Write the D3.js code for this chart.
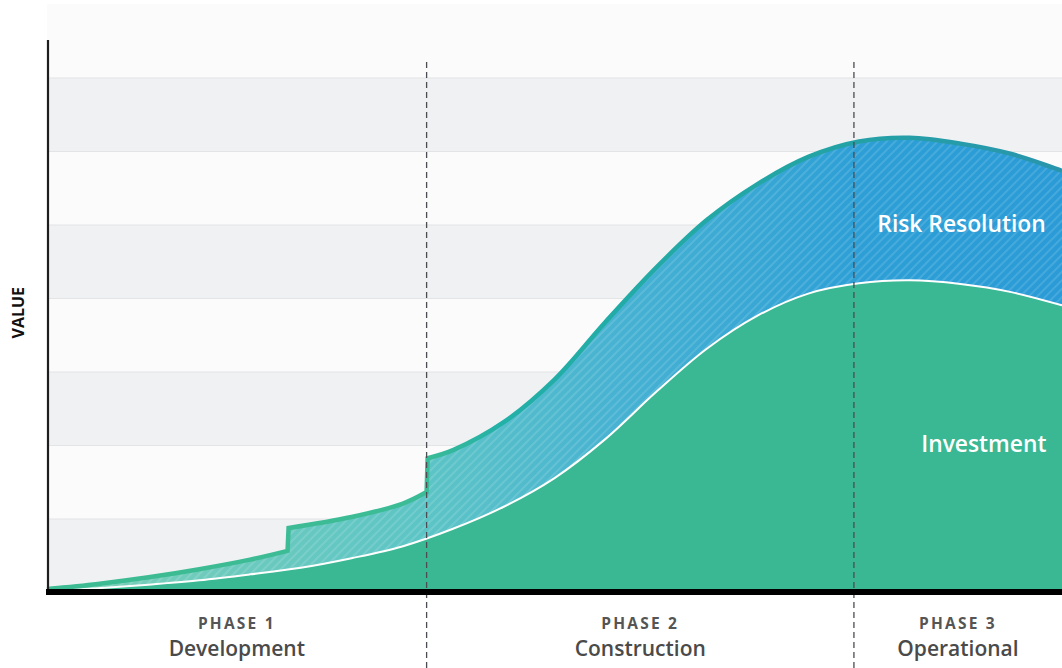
<!DOCTYPE html>
<html>
<head>
<meta charset="utf-8">
<script src="https://cdn.jsdelivr.net/npm/d3@7"></script>
<style>
  body { margin: 0; background: #fff; }
  text { font-family: "Open Sans", "Noto Sans", sans-serif; }
</style>
</head>
<body>
<svg width="1062" height="668"></svg>
<script>
var svg = d3.select("svg"),
    margin = {top: 4, right: 0, bottom: 76, left: 47},
    width = +svg.attr("width") - margin.left - margin.right,
    height = +svg.attr("height") - margin.top - margin.bottom;

// project timeline 0..100, value in grid bands 0..8
var bands = d3.range(8);
var phaseEdges = [0, 37.4, 79.5, 100];
var phaseNames = ["PHASE 1", "PHASE 2", "PHASE 3"];
var phaseTitles = ["Development", "Construction", "Operational"];

// upper curve (investment + risk resolution); steps at 23.7 and 37.4
var topX = [0, 5, 10, 15, 20, 23.7, 23.8, 30, 35, 37.4, 37.5, 40, 45, 50, 55, 60, 65, 70, 75, 80, 85, 90, 95, 100];
var topV = [0.04, 0.11, 0.20, 0.31, 0.44, 0.56, 0.87, 1.02, 1.20, 1.36, 1.82, 1.93, 2.31, 2.89, 3.67, 4.41, 5.06, 5.55, 5.92, 6.13, 6.18, 6.10, 5.96, 5.73];

// investment curve
var invX = [0, 5, 10, 15, 20, 25, 30, 35, 40, 45, 50, 55, 60, 65, 70, 75, 80, 85, 90, 95, 100];
var invV = [0.01, 0.05, 0.10, 0.16, 0.24, 0.33, 0.46, 0.62, 0.86, 1.16, 1.55, 2.08, 2.72, 3.31, 3.76, 4.06, 4.20, 4.24, 4.19, 4.08, 3.90];

var xScale = d3.scaleLinear().domain([0, 100]).range([margin.left, margin.left + width]);
var yScale = d3.scaleLinear().domain([0, 8]).range([margin.top + height, margin.top]);

var topData = topX.map(function(x, i) { return {x: x, v: topV[i]}; });
var invData = invX.map(function(x, i) { return {x: x, v: invV[i]}; });

var defs = svg.append("defs");

var fillGrad = defs.append("linearGradient")
    .attr("id", "riskFill")
    .attr("gradientUnits", "userSpaceOnUse")
    .attr("x1", xScale(0)).attr("x2", xScale(100)).attr("y1", 0).attr("y2", 0);
[[0, "#7bd0b6"], [0.38, "#5cc4c6"], [0.56, "#47b2d2"], [0.8, "#2d9fd6"], [1, "#2a9bd6"]].forEach(function(s) {
  fillGrad.append("stop").attr("offset", s[0]).attr("stop-color", s[1]);
});

var lineGrad = defs.append("linearGradient")
    .attr("id", "riskLine")
    .attr("gradientUnits", "userSpaceOnUse")
    .attr("x1", xScale(0)).attr("x2", xScale(100)).attr("y1", 0).attr("y2", 0);
[[0, "#3dbb92"], [0.37, "#3cbc96"], [0.45, "#22b0a8"], [0.75, "#23a4a4"], [1, "#2895ad"]].forEach(function(s) {
  lineGrad.append("stop").attr("offset", s[0]).attr("stop-color", s[1]);
});

var hatch = defs.append("pattern")
    .attr("id", "hatch")
    .attr("patternUnits", "userSpaceOnUse")
    .attr("width", 6).attr("height", 6)
    .attr("patternTransform", "rotate(45)");
hatch.append("rect")
    .attr("width", 2).attr("height", 6)
    .attr("fill", "#fff").attr("fill-opacity", 0.13);

// background bands
svg.selectAll(".band")
    .data(bands)
    .enter()
    .append("rect")
    .attr("class", "band")
    .attr("x", margin.left)
    .attr("width", width)
    .attr("y", function(d) { return yScale(d + 1); })
    .attr("height", function(d) { return yScale(d) - yScale(d + 1); })
    .attr("fill", function(d) { return d % 2 === 0 ? "#f0f1f3" : "#fbfbfb"; });

svg.selectAll(".bandline")
    .data(bands.slice(1))
    .enter()
    .append("line")
    .attr("x1", margin.left).attr("x2", margin.left + width)
    .attr("y1", function(d) { return yScale(d) + 0.5; })
    .attr("y2", function(d) { return yScale(d) + 0.5; })
    .attr("stroke", "#e3e4e6")
    .attr("stroke-width", 1);

var line = d3.line()
    .x(function(d) { return xScale(d.x); })
    .y(function(d) { return yScale(d.v); })
    .curve(d3.curveCatmullRom.alpha(0.5));

var area = d3.area()
    .x(function(d) { return xScale(d.x); })
    .y0(yScale(0))
    .y1(function(d) { return yScale(d.v); })
    .curve(d3.curveCatmullRom.alpha(0.5));

// split the top curve at its vertical steps so each piece stays smooth
var segs = [], cur = [topData[0]];
for (var i = 1; i < topData.length; i++) {
  if (topData[i].x - topData[i - 1].x < 0.5) { segs.push(cur); cur = [topData[i]]; }
  else cur.push(topData[i]);
}
segs.push(cur);
var topPath = segs.map(function(s, i) {
  var p = line(s);
  return i ? "L" + p.slice(1) : p;
}).join("");
var topArea = topPath + "L" + xScale(100) + "," + yScale(0) + "L" + xScale(0) + "," + yScale(0) + "Z";

// risk resolution (drawn to baseline, investment covers lower part)
svg.append("path").attr("d", topArea).attr("fill", "url(#riskFill)");
svg.append("path").attr("d", topArea).attr("fill", "url(#hatch)");

svg.append("path").datum(invData).attr("d", area).attr("fill", "#3ab894");
svg.append("path").datum(invData).attr("d", line)
    .attr("fill", "none").attr("stroke", "#fff").attr("stroke-width", 2);

svg.append("path").attr("d", topPath)
    .attr("fill", "none").attr("stroke", "url(#riskLine)").attr("stroke-width", 4.5)
    .attr("stroke-linejoin", "miter");

// phase dividers
svg.selectAll(".divider")
    .data(phaseEdges.slice(1, 3))
    .enter()
    .append("line")
    .attr("x1", function(d) { return xScale(d); })
    .attr("x2", function(d) { return xScale(d); })
    .attr("y1", 62).attr("y2", 668)
    .attr("stroke", "#4a4d52")
    .attr("stroke-width", 1.3)
    .attr("stroke-dasharray", "6,4");

// axes
svg.append("line")
    .attr("x1", margin.left + 1).attr("x2", margin.left + 1)
    .attr("y1", 40).attr("y2", yScale(0))
    .attr("stroke", "#1e1e1e").attr("stroke-width", 2.2);

svg.append("line")
    .attr("x1", margin.left - 1).attr("x2", margin.left + width)
    .attr("y1", yScale(0)).attr("y2", yScale(0))
    .attr("stroke", "#000").attr("stroke-width", 6);

svg.append("text")
    .attr("transform", "translate(24," + yScale(3.8) + ") rotate(-90)")
    .attr("text-anchor", "middle")
    .attr("font-size", 16).attr("font-weight", 700)
    .attr("fill", "#111")
    .text("VALUE");

// phase labels
var phases = d3.range(3);
svg.selectAll(".phase")
    .data(phases)
    .enter()
    .append("text")
    .attr("x", function(i) { return (xScale(phaseEdges[i]) + xScale(phaseEdges[i + 1])) / 2; })
    .attr("y", 629)
    .attr("text-anchor", "middle")
    .attr("font-size", 15.5).attr("font-weight", 700)
    .attr("letter-spacing", 2.2)
    .attr("fill", "#555")
    .text(function(i) { return phaseNames[i]; });

svg.selectAll(".phasetitle")
    .data(phases)
    .enter()
    .append("text")
    .attr("x", function(i) { return (xScale(phaseEdges[i]) + xScale(phaseEdges[i + 1])) / 2; })
    .attr("y", 656)
    .attr("text-anchor", "middle")
    .attr("font-size", 21).attr("font-weight", 600)
    .attr("fill", "#4a4a4a")
    .text(function(i) { return phaseTitles[i]; });

// series labels
svg.append("text")
    .attr("x", xScale(90.1)).attr("y", yScale(4.9))
    .attr("text-anchor", "middle")
    .attr("font-size", 22.8).attr("font-weight", 600)
    .attr("fill", "#fff")
    .text("Risk Resolution");

svg.append("text")
    .attr("x", xScale(92.3)).attr("y", yScale(1.91))
    .attr("text-anchor", "middle")
    .attr("font-size", 22.8).attr("font-weight", 600)
    .attr("fill", "#fff")
    .text("Investment");
</script>
</body>
</html>
